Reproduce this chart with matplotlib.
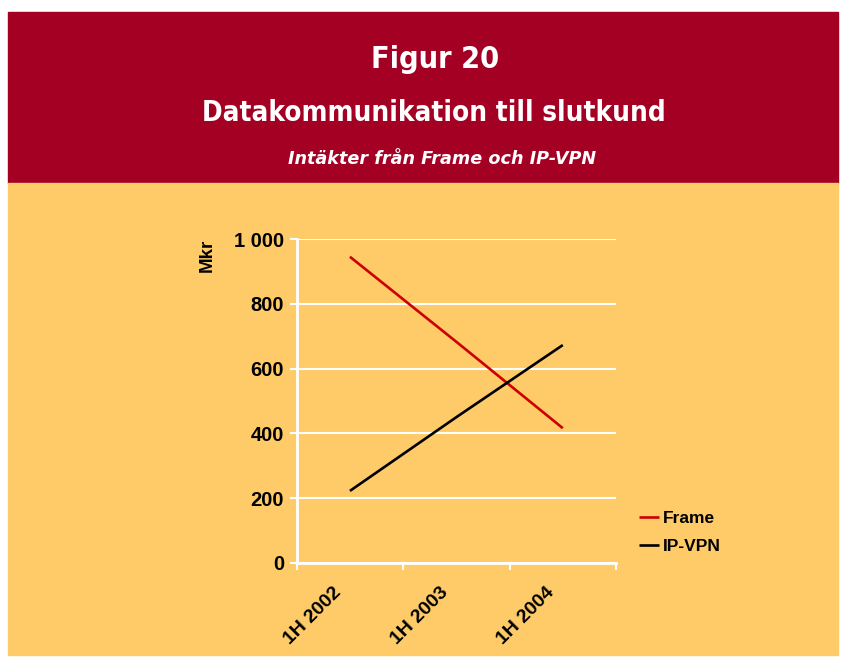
import matplotlib
matplotlib.use('Agg')
import matplotlib.pyplot as plt
from matplotlib.patches import Rectangle
from matplotlib.transforms import ScaledTranslation

# data
periods = ['1H 2002', '1H 2003', '1H 2004']
frame = [946, 683, 416]
ip_vpn = [222, 450, 673]
y_ticks = [0, 200, 400, 600, 800, 1000]
y_labels = ['0', '200', '400', '600', '800', '1 000']

red_band = '#A30024'
orange = '#FECB68'

plt.rcParams['font.family'] = ['Liberation Sans', 'DejaVu Sans']

W, H = 845, 659
fig = plt.figure(figsize=(W / 100, H / 100), dpi=100, facecolor='white')

# header band and orange panel
fig.patches.append(Rectangle((8 / W, 1 - 183 / H), 830 / W, 171 / H,
                             transform=fig.transFigure, color=red_band, zorder=-10))
fig.patches.append(Rectangle((8 / W, 1 - 655 / H), 830 / W, 472 / H,
                             transform=fig.transFigure, color=orange, zorder=-10))

head_font = ['DejaVu Sans']
fig.text(435 / W, 1 - 60 / H, 'Figur 20', color='white', fontsize=22,
         fontweight='bold', fontstretch='condensed', family=head_font,
         ha='center', va='center')
fig.text(434 / W, 1 - 113 / H, 'Datakommunikation till slutkund', color='white',
         fontsize=20, fontweight='bold', fontstretch='condensed', family=head_font,
         ha='center', va='center')
fig.text(442 / W, 1 - 159 / H, 'Intäkter från Frame och IP-VPN', color='white',
         fontsize=12.7, fontweight='bold', fontstyle='italic',
         family=head_font, ha='center', va='center')

ax = fig.add_axes([296.7 / W, 1 - 562.7 / H, (616 - 296.7) / W, (562.7 - 239.3) / H])
ax.set_facecolor('none')

x = [0.5, 1.5, 2.5]
ax.plot(x, frame, color='#CC0000', linewidth=1.9, label='Frame', solid_capstyle='butt')
ax.plot(x, ip_vpn, color='black', linewidth=1.9, label='IP-VPN', solid_capstyle='butt')

ax.set_xlim(0, 3)
ax.set_ylim(0, 1000)
ax.set_yticks(y_ticks)
ax.set_yticklabels(y_labels, fontsize=14.5, fontweight='bold')
ax.grid(axis='y', color='white', linewidth=1.5)
ax.set_axisbelow(True)

ax.set_xticks([0, 1, 2, 3])
ax.set_xticklabels([])
ax.set_xticks(x, minor=True)
ax.set_xticklabels(periods, minor=True, rotation=45, ha='right',
                   rotation_mode='anchor', fontsize=14, fontweight='bold')
ax.tick_params(axis='x', which='minor', length=0, pad=15)
ax.tick_params(axis='both', which='major', color='white', width=1.5, length=5)
ax.tick_params(axis='y', pad=4)
shift = ScaledTranslation(-17 / 100, 0, fig.dpi_scale_trans)
for lbl in ax.get_xticklabels(minor=True):
    lbl.set_transform(lbl.get_transform() + shift)

for side in ['top', 'right']:
    ax.spines[side].set_visible(False)
for side in ['left', 'bottom']:
    ax.spines[side].set_color('white')
    ax.spines[side].set_linewidth(2)

fig.text(207 / W, 1 - 239 / H, 'Mkr', rotation=90, fontsize=13.5,
         fontweight='bold', ha='center', va='top')

leg = ax.legend(loc='upper left', bbox_to_anchor=(623 / W, 1 - 495 / H),
                bbox_transform=fig.transFigure, frameon=False,
                handlelength=1.15, handletextpad=0.25, labelspacing=0.75,
                prop={'weight': 'bold', 'size': 12.5})

fig.savefig('out.png', dpi=100, facecolor='white')
